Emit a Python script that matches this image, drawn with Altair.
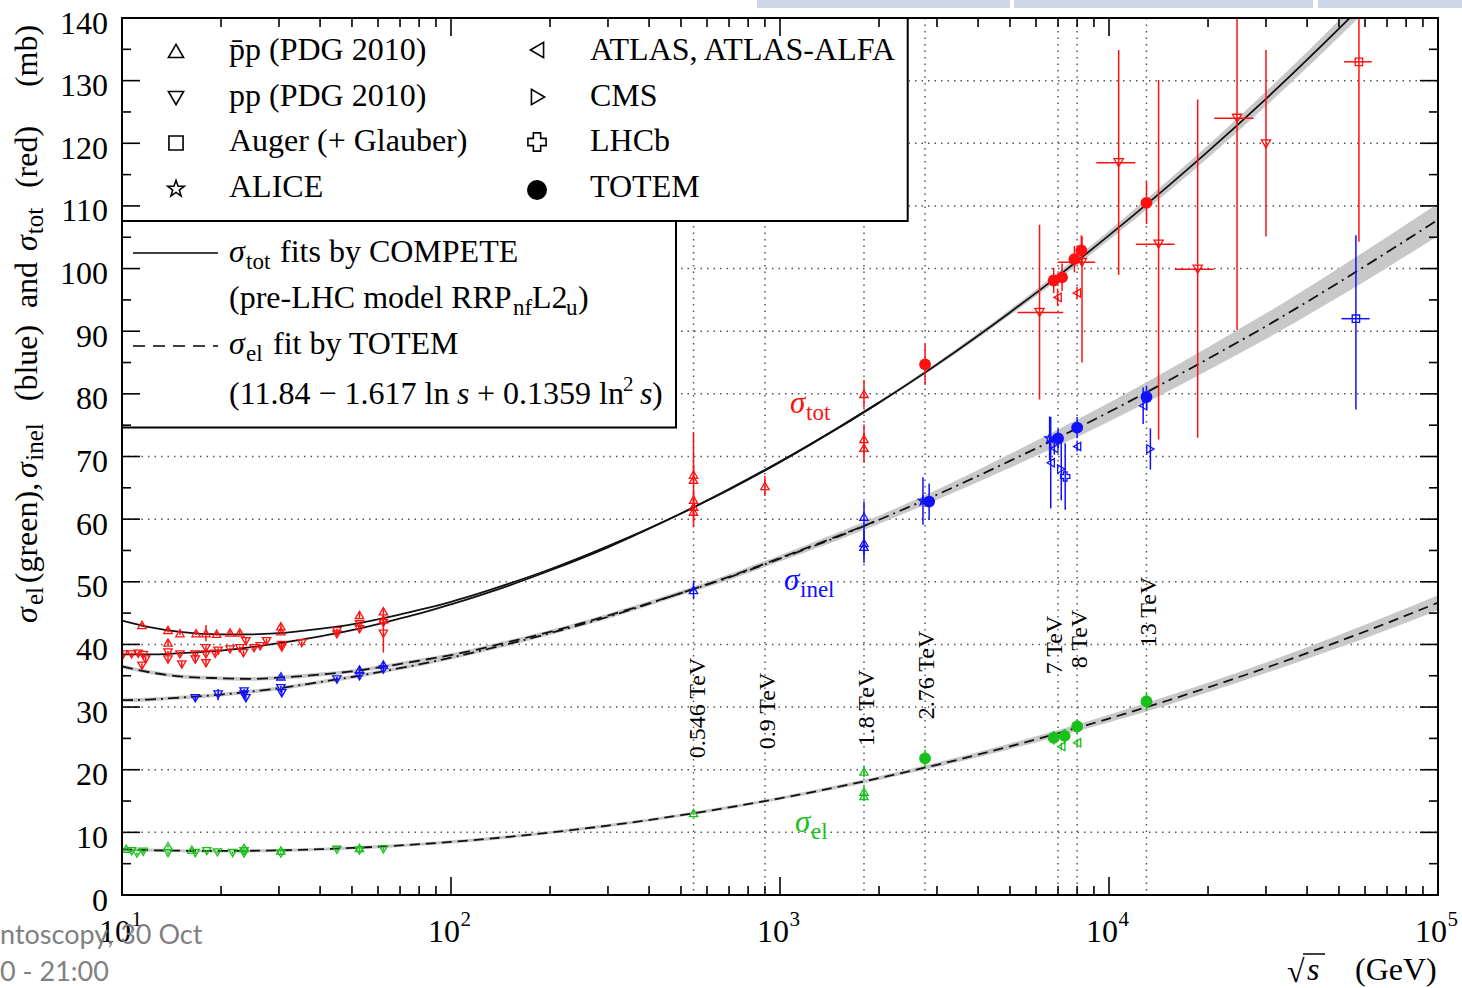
import altair as alt
import pandas as pd

# ---------------- fit curves: sqrt(s) [GeV] -> cross section [mb] ----------------
E_fit = [10, 12, 15, 20, 25, 30, 40, 50, 65, 80, 100, 150, 200, 300, 500, 700, 1000,
         1500, 2000, 3000, 5000, 7000, 10000, 15000, 20000, 30000, 50000, 70000, 100000]
tot_pp_fit = [38.4, 38.4, 38.6, 39.0, 39.6, 40.2, 41.3, 42.3, 43.7, 44.9, 46.4, 49.4, 51.8, 55.5,
              60.9, 64.7, 69.1, 74.5, 78.6, 84.7, 93.0, 98.8, 105.3, 113.0, 118.7, 127.1, 138.3,
              146.0, 154.5]
tot_pbp_fit = [43.8, 42.8, 42.0, 41.6, 41.6, 41.8, 42.5, 43.2, 44.4, 45.5, 46.8, 49.7, 52.0, 55.7,
               60.9, 64.8, 69.2, 74.6, 78.6]
el_fit = [7.28, 7.16, 7.07, 7.03, 7.06, 7.13, 7.31, 7.51, 7.81, 8.11, 8.48, 9.28, 9.97, 11.08,
          12.74, 13.98, 15.44, 17.26, 18.67, 20.79, 23.73, 25.82, 28.17, 31.01, 33.13, 36.27,
          40.49, 43.42, 46.66]
inel_pp_fit = [31.1, 31.2, 31.5, 32.0, 32.5, 33.0, 34.0, 34.8, 35.9, 36.8, 37.9, 40.1, 41.8, 44.4,
               48.2, 50.7, 53.7, 57.2, 59.9, 63.9, 69.3, 73.0, 77.1, 82.0, 85.6, 90.8, 97.8,
               102.6, 107.8]
inel_pbp_fit = [36.5, 35.6, 34.9, 34.6, 34.5, 34.7, 35.2, 35.7, 36.6, 37.4, 38.3, 40.4, 42.0, 44.6,
                48.2, 50.8, 53.8, 57.3, 59.9]
# half widths of the uncertainty bands
tot_band = [0, 0, 0, 0, 0, 0, 0, 0, 0, 0, 0, 0, 0, 0, 0.05, 0.08, 0.1, 0.15, 0.2, 0.3, 0.45,
            0.6, 0.75, 0.9, 1.0, 1.15, 1.35, 1.45, 1.6]
inel_band = [0.3, 0.3, 0.3, 0.3, 0.3, 0.3, 0.3, 0.3, 0.3, 0.3, 0.3, 0.3, 0.3, 0.3, 0.35, 0.4,
             0.45, 0.55, 0.65, 0.8, 1.1, 1.3, 1.5, 1.7, 1.85, 2.05, 2.3, 2.45, 2.6]
el_band = [0.25, 0.25, 0.25, 0.25, 0.25, 0.25, 0.25, 0.25, 0.25, 0.25, 0.25, 0.25, 0.25, 0.25,
           0.25, 0.25, 0.25, 0.28, 0.3, 0.35, 0.45, 0.5, 0.6, 0.7, 0.75, 0.85, 1.0, 1.1, 1.2]

# ---------------- measurements ----------------
# sigma_tot
tot_pbp_E = [11.5, 13.8, 13.8, 15.0, 16.8, 18.0, 19.4, 21.3, 22.8, 30.4, 30.4, 52.7, 62.3, 62.3,
             546, 546, 546, 546, 546, 900, 1800, 1800, 1800]
tot_pbp_v = [43.1, 42.3, 40.3, 41.8, 41.8, 41.8, 41.7, 41.9, 41.9, 42.9, 42.1, 44.7, 45.3, 44.0,
             67.1, 66.3, 63.1, 62.0, 61.2, 65.3, 80.0, 72.8, 71.4]
tot_pbp_err = [0.3, 0.4, 0.4, 0.3, 0.3, 1.3, 0.3, 0.3, 0.3, 0.4, 0.4, 0.5, 0.5, 0.5,
               1.5, 7.6, 1.5, 1.5, 1.5, 1.6, 2.2, 2.3, 2.4]

tot_pp_E = [10.1, 10.7, 11.2, 11.5, 11.6, 11.8, 13.8, 13.8, 15.0, 15.2, 16.7, 16.7, 18.0, 18.0,
            18.0, 19.2, 19.6, 21.3, 22.8, 23.4, 23.8, 25.2, 26.3, 27.5, 30.6, 30.6, 35.2, 45.0,
            45.0, 52.7, 52.7, 62.3, 62.3]
tot_pp_v = [38.4, 38.4, 38.5, 36.6, 38.3, 37.6, 38.7, 37.6, 38.4, 36.8, 38.4, 37.6, 39.4, 38.4,
            37.0, 38.5, 39.0, 39.2, 39.4, 38.6, 40.5, 39.4, 39.7, 40.5, 39.9, 39.5, 40.2, 42.1,
            41.6, 43.2, 42.4, 43.4, 41.7]
tot_pp_err = [0.3, 0.3, 0.3, 0.4, 0.3, 0.4, 0.3, 0.4, 0.3, 0.5, 0.3, 0.4, 0.4, 0.3,
              0.5, 0.3, 0.4, 0.3, 0.3, 0.4, 0.6, 0.3, 0.3, 0.4, 0.3, 0.3, 0.3, 0.4,
              0.4, 0.4, 0.4, 0.4, 3.0]

# cosmic-ray pp points (with energy ranges)
cr_E = [6150, 8280, 10700, 14150, 18600, 24500, 30000]
cr_Elo = [5270, 6980, 9150, 12070, 15850, 20900, 30000]
cr_Ehi = [7260, 9080, 12020, 15830, 20800, 27500, 30000]
cr_v = [93.0, 101.0, 116.9, 103.9, 99.9, 124.0, 119.9]
cr_lo = [79.1, 85.0, 99.0, 72.7, 73.0, 90.2, 105.1]
cr_hi = [107.0, 105.1, 134.9, 130.1, 127.0, 150.0, 134.9]

auger_tot_E, auger_tot_Elo, auger_tot_Ehi = [57500], [51800], [62900]
auger_tot_v, auger_tot_lo, auger_tot_hi = [133.0], [104.3], [160.0]
auger_inel_E, auger_inel_Elo, auger_inel_Ehi = [56300], [50900], [62000]
auger_inel_v, auger_inel_lo, auger_inel_hi = [92.0], [77.5], [105.3]

atlas_tot_E, atlas_tot_v, atlas_tot_err = [6980, 7990], [95.4, 96.1], [1.4, 1.0]
totem_tot_E = [2760, 6790, 7200, 7850, 8240, 13000]
totem_tot_v = [84.7, 98.1, 98.6, 101.5, 102.9, 110.5]
totem_tot_err = [3.3, 2.0, 2.2, 2.1, 2.4, 3.4]

# sigma_inel
inel_pbp_E = [30.4, 52.7, 62.3, 546, 1800, 1800, 1800]
inel_pbp_v = [34.9, 36.0, 36.8, 48.7, 60.4, 56.2, 55.6]
inel_pbp_err = [0.3, 0.4, 0.4, 1.5, 2.4, 2.0, 2.6]
inel_pp_E = [16.7, 19.6, 23.5, 23.5, 23.8, 30.4, 30.6, 45.0, 52.7, 62.3]
inel_pp_v = [31.4, 32.0, 32.5, 32.0, 31.4, 33.0, 32.2, 34.4, 34.9, 36.0]
inel_pp_err = [0.4, 0.9, 0.4, 0.4, 0.4, 0.4, 0.4, 0.4, 0.4, 0.4]
alice_inel_E, alice_inel_v, alice_inel_err = [2720, 6600], [62.9, 72.9], [3.8, 3.5]
atlas_inel_E = [6650, 6820, 8000, 12700]
atlas_inel_v = [69.0, 71.3, 71.6, 78.1]
atlas_inel_err = [7.3, 1.0, 0.8, 2.9]
cms_inel_E, cms_inel_v, cms_inel_err = [7160, 13360], [68.0, 71.2], [5.0, 3.3]
lhcb_inel_E, lhcb_inel_v, lhcb_inel_err = [7360], [66.8], [5.3]
totem_inel_E = [2840, 7000, 8000, 13000]
totem_inel_v = [62.8, 72.9, 74.6, 79.5]
totem_inel_err = [2.9, 1.5, 1.7, 1.8]

# sigma_el
el_pbp_E = [10.3, 13.8, 16.3, 23.5, 30.4, 52.7, 546, 1800, 1800, 1800]
el_pbp_v = [7.4, 7.8, 7.25, 7.5, 7.1, 7.5, 13.1, 19.7, 16.5, 15.8]
el_pbp_err = [0.2, 0.2, 0.2, 0.2, 0.2, 0.2, 0.3, 0.85, 0.8, 0.8]
el_pp_E = [10.7, 11.1, 11.6, 13.8, 16.7, 18.1, 19.5, 21.7, 23.5, 23.5, 30.4, 45.0, 52.7, 62.3]
el_pp_v = [7.0, 6.6, 6.9, 6.7, 6.7, 7.0, 6.8, 6.7, 7.0, 6.6, 6.6, 7.2, 7.1, 7.3]
el_pp_err = [0.2, 0.2, 0.2, 0.2, 0.2, 0.2, 0.2, 0.2, 0.2, 0.2, 0.2, 0.2, 0.2, 0.2]
atlas_el_E, atlas_el_v, atlas_el_err = [7160, 8000], [23.7, 24.3], [0.6, 0.4]
totem_el_E = [2760, 6790, 7330, 8000, 13000]
totem_el_v = [21.8, 25.1, 25.4, 26.9, 30.9]
totem_el_err = [1.4, 1.1, 1.1, 1.2, 1.5]

# collider energies marked with vertical lines
coll_E = [546, 900, 1800, 2760, 7000, 8000, 13000]
coll_label = ["0.546 TeV", "0.9 TeV", "1.8 TeV", "2.76 TeV", "7 TeV", "8 TeV", "13 TeV"]

# ---------------- layout & style ----------------
W, H = 1316, 877          # plot area
OX, OY = 122, 18          # plot origin on the page
SERIF = "Liberation Serif"
FS, SUB = 32, 23          # main and subscript font sizes
RED, BLUE, GREEN = "#ff1010", "#1010ff", "#19c019"
STAR = ("M0,-1L0.235,-0.324L0.951,-0.309L0.38,0.124L0.588,0.809L0,0.4L-0.588,0.809"
        "L-0.38,0.124L-0.951,-0.309L-0.235,-0.324Z")

X_SCALE = alt.Scale(type="log", domain=[10, 100000], nice=False)
Y_SCALE = alt.Scale(domain=[0, 140], nice=False, zero=False)


def X(f="E"):
    return alt.X(f"{f}:Q", scale=X_SCALE, axis=None)


def Y(f="v"):
    return alt.Y(f"{f}:Q", scale=Y_SCALE, axis=None)


def one():
    return alt.Chart(pd.DataFrame({"k": [0]}))


def txt(s, ax, ay, size=FS, color="black", italic=False, align="left",
        baseline="alphabetic", angle=0, font=SERIF):
    kw = dict(text=s, fontSize=size, color=color, align=align, baseline=baseline, font=font)
    if italic:
        kw["fontStyle"] = "italic"
    if angle:
        kw["angle"] = angle
    return one().mark_text(**kw).encode(x=alt.value(ax - OX), y=alt.value(ay - OY))


def sym(shape, ax, ay, size, filled=False, color="black"):
    return one().mark_point(shape=shape, size=size, filled=filled, color=color, opacity=1,
                            strokeWidth=1.6).encode(x=alt.value(ax - OX), y=alt.value(ay - OY))


def prect(x1, y1, x2, y2, **kw):
    return one().mark_rect(**kw).encode(x=alt.value(x1 - OX), x2=alt.value(x2 - OX),
                                        y=alt.value(y1 - OY), y2=alt.value(y2 - OY))


def meas(E, v, color, shape, size, filled=False, err=None, lo=None, hi=None, Elo=None, Ehi=None):
    if err is not None:
        lo = [a - b for a, b in zip(v, err)]
        hi = [a + b for a, b in zip(v, err)]
    df = pd.DataFrame({"E": E, "v": v, "lo": lo, "hi": hi})
    base = alt.Chart(df)
    out = [base.mark_rule(color=color, strokeWidth=1.5, clip=True).encode(
        x=X(), y=Y("lo"), y2=alt.Y2("hi:Q"))]
    if Elo is not None:
        dfx = pd.DataFrame({"Elo": Elo, "Ehi": Ehi, "v": v})
        out.append(alt.Chart(dfx).mark_rule(color=color, strokeWidth=1.5, clip=True).encode(
            x=X("Elo"), x2=alt.X2("Ehi:Q"), y=Y()))
    out.append(base.mark_point(shape=shape, size=size, filled=filled, color=color, opacity=1,
                               strokeWidth=1.3, clip=True).encode(x=X(), y=Y()))
    return out


layers = []

# ---------------- grid ----------------
grid_v = pd.DataFrame({"v": list(range(10, 140, 10))})
layers.append(alt.Chart(grid_v).mark_rule(color="#555", strokeWidth=1.5, strokeDash=[1.5, 5]).encode(
    y=Y(), x=alt.value(0), x2=alt.value(W)))
layers.append(alt.Chart(pd.DataFrame({"E": coll_E})).mark_rule(
    color="#555", strokeWidth=1.5, strokeDash=[1.5, 5]).encode(x=X(), y=alt.value(0), y2=alt.value(H)))

# ---------------- fit bands and curves ----------------
fit = pd.DataFrame({"E": E_fit, "tot": tot_pp_fit, "el": el_fit, "inel": inel_pp_fit,
                    "tlo": [a - b for a, b in zip(tot_pp_fit, tot_band)],
                    "thi": [a + b for a, b in zip(tot_pp_fit, tot_band)],
                    "ilo": [a - b for a, b in zip(inel_pp_fit, inel_band)],
                    "ihi": [a + b for a, b in zip(inel_pp_fit, inel_band)],
                    "elo": [a - b for a, b in zip(el_fit, el_band)],
                    "ehi": [a + b for a, b in zip(el_fit, el_band)]})
n = len(tot_pbp_fit)
fitb = pd.DataFrame({"E": E_fit[:n], "tot": tot_pbp_fit, "inel": inel_pbp_fit,
                     "ilo": [a - b for a, b in zip(inel_pbp_fit, inel_band[:n])],
                     "ihi": [a + b for a, b in zip(inel_pbp_fit, inel_band[:n])]})
band_kw = dict(color="#c8c8c8", opacity=1, interpolate="monotone", clip=True)
for df, lo, hi in [(fit, "tlo", "thi"), (fit, "ilo", "ihi"), (fitb, "ilo", "ihi"), (fit, "elo", "ehi")]:
    layers.append(alt.Chart(df).mark_area(**band_kw).encode(x=X(), y=Y(lo), y2=alt.Y2(f"{hi}:Q")))

line_kw = dict(color="#111", strokeWidth=1.8, interpolate="monotone", clip=True)
layers.append(alt.Chart(fit).mark_line(**line_kw).encode(x=X(), y=Y("tot")))
layers.append(alt.Chart(fitb).mark_line(**line_kw).encode(x=X(), y=Y("tot")))
layers.append(alt.Chart(fit).mark_line(strokeDash=[11, 5, 2, 5], **line_kw).encode(x=X(), y=Y("inel")))
layers.append(alt.Chart(fitb).mark_line(strokeDash=[11, 6], **line_kw).encode(x=X(), y=Y("inel")))
layers.append(alt.Chart(fit).mark_line(strokeDash=[10, 6], **line_kw).encode(x=X(), y=Y("el")))

# ---------------- measurements ----------------
TRI = 70
layers += meas(tot_pbp_E, tot_pbp_v, RED, "triangle-up", TRI, err=tot_pbp_err)
layers += meas(tot_pp_E, tot_pp_v, RED, "triangle-down", TRI, err=tot_pp_err)
layers += meas(cr_E, cr_v, RED, "triangle-down", 85, lo=cr_lo, hi=cr_hi, Elo=cr_Elo, Ehi=cr_Ehi)
layers += meas(auger_tot_E, auger_tot_v, RED, "square", 55, lo=auger_tot_lo, hi=auger_tot_hi,
               Elo=auger_tot_Elo, Ehi=auger_tot_Ehi)
layers += meas(atlas_tot_E, atlas_tot_v, RED, "triangle-left", TRI, err=atlas_tot_err)
layers += meas(totem_tot_E, totem_tot_v, RED, "circle", 140, filled=True, err=totem_tot_err)

layers += meas(inel_pbp_E, inel_pbp_v, BLUE, "triangle-up", TRI, err=inel_pbp_err)
layers += meas(inel_pp_E, inel_pp_v, BLUE, "triangle-down", TRI, err=inel_pp_err)
layers += meas(auger_inel_E, auger_inel_v, BLUE, "square", 55, lo=auger_inel_lo, hi=auger_inel_hi,
               Elo=auger_inel_Elo, Ehi=auger_inel_Ehi)
layers += meas(alice_inel_E, alice_inel_v, BLUE, STAR, 95, err=alice_inel_err)
layers += meas(atlas_inel_E, atlas_inel_v, BLUE, "triangle-left", TRI, err=atlas_inel_err)
layers += meas(cms_inel_E, cms_inel_v, BLUE, "triangle-right", TRI, err=cms_inel_err)
layers += meas(lhcb_inel_E, lhcb_inel_v, BLUE, "cross", 85, err=lhcb_inel_err)
layers += meas(totem_inel_E, totem_inel_v, BLUE, "circle", 140, filled=True, err=totem_inel_err)

layers += meas(el_pbp_E, el_pbp_v, GREEN, "triangle-up", TRI, err=el_pbp_err)
layers += meas(el_pp_E, el_pp_v, GREEN, "triangle-down", TRI, err=el_pp_err)
layers += meas(atlas_el_E, atlas_el_v, GREEN, "triangle-left", TRI, err=atlas_el_err)
layers += meas(totem_el_E, totem_el_v, GREEN, "circle", 140, filled=True, err=totem_el_err)

# ---------------- in-plot labels ----------------
layers += [txt("σ", 790, 413, 31, RED, italic=True), txt("tot", 806, 420, SUB, RED)]
layers += [txt("σ", 784, 590, 31, BLUE, italic=True), txt("inel", 800, 597, SUB, BLUE)]
layers += [txt("σ", 795, 832, 31, GREEN, italic=True), txt("el", 811, 839, SUB, GREEN)]

label_pos = [(708, 11), (711, 10), (708, 10), (675, 9), (645, 4), (639, 10), (612, 10)]
for E, lab, (cy, off) in zip(coll_E, coll_label, label_pos):
    layers.append(alt.Chart(pd.DataFrame({"E": [E]})).mark_text(
        text=lab, font=SERIF, fontSize=24, angle=270, align="center", baseline="alphabetic",
        dy=off, color="black").encode(x=X(), y=alt.value(cy - OY)))

# ---------------- legend boxes ----------------
layers.append(prect(122, 18, 907.7, 221, fill="white", stroke="black", strokeWidth=2))
layers.append(prect(122, 221, 676, 427.5, fill="white", stroke="black", strokeWidth=2))

layers += [sym("triangle-up", 176, 51, 230), sym("triangle-down", 176, 98, 230),
           sym("square", 176, 143, 200), sym(STAR, 176, 189, 300),
           sym("triangle-left", 537, 50, 230), sym("triangle-right", 538, 97, 230),
           sym("cross", 537, 142, 330), sym("circle", 537, 190, 400, filled=True)]
layers += [txt("p\u0304p (PDG 2010)", 229, 60), txt("pp (PDG 2010)", 229, 106),
           txt("Auger (+ Glauber)", 229, 151), txt("ALICE", 229, 197),
           txt("ATLAS, ATLAS-ALFA", 590, 60), txt("CMS", 590, 106),
           txt("LHCb", 590, 151), txt("TOTEM", 590, 197)]

layers.append(one().mark_rule(color="black", strokeWidth=1.5).encode(
    x=alt.value(133 - OX), x2=alt.value(218 - OX), y=alt.value(253 - OY)))
layers.append(one().mark_rule(color="black", strokeWidth=1.5, strokeDash=[12, 8]).encode(
    x=alt.value(133 - OX), x2=alt.value(218 - OX), y=alt.value(346 - OY)))
layers += [txt("σ", 229, 262, italic=True), txt("tot", 246, 269, SUB),
           txt("fits by COMPETE", 280, 262),
           txt("(pre-LHC model RRP", 229, 308), txt("nf", 513, 315, SUB), txt("L2", 532, 308),
           txt("u", 566, 315, SUB), txt(")", 578, 308),
           txt("σ", 229, 354, italic=True), txt("el", 246, 361, SUB), txt("fit by TOTEM", 273, 354),
           txt("(11.84 \u2212 1.617 ln", 229, 404), txt("s", 457, 404, italic=True),
           txt("+ 0.1359 ln", 477, 404), txt("2", 623, 391, 21), txt("s", 640, 404, italic=True),
           txt(")", 652, 404)]

# ---------------- frame and ticks ----------------
layers.append(prect(OX, OY, OX + W, OY + H, fillOpacity=0, stroke="black", strokeWidth=2))
xmaj = pd.DataFrame({"E": [10, 100, 1000, 10000, 100000]})
xmin = pd.DataFrame({"E": [m * 10 ** k for k in range(1, 5) for m in range(2, 10)]})
ymaj = pd.DataFrame({"v": list(range(0, 141, 10))})
ymin = pd.DataFrame({"v": list(range(5, 140, 10))})
tk = dict(color="black", strokeWidth=1.6)
for df, L in [(xmaj, 18), (xmin, 9)]:
    layers.append(alt.Chart(df).mark_rule(**tk).encode(x=X(), y=alt.value(H), y2=alt.value(H - L)))
    layers.append(alt.Chart(df).mark_rule(**tk).encode(x=X(), y=alt.value(0), y2=alt.value(L)))
for df, L in [(ymaj, 18), (ymin, 9)]:
    layers.append(alt.Chart(df).mark_rule(**tk).encode(y=Y(), x=alt.value(0), x2=alt.value(L)))
    layers.append(alt.Chart(df).mark_rule(**tk).encode(y=Y(), x=alt.value(W), x2=alt.value(W - L)))

# tick labels
for v in range(0, 141, 10):
    layers.append(txt(str(v), 108, OY + (140 - v) * H / 140 + 15.5, align="right"))
for k in range(1, 6):
    xt = OX + (k - 1) * W / 4
    layers += [txt("10", xt + 9, 942, align="right"), txt(str(k), xt + 9.5, 926, 21)]

# axis titles
layers += [txt("√", 1287, 982), txt("s", 1307, 980, italic=True), txt("(GeV)", 1355, 980)]
layers.append(one().mark_rule(color="black", strokeWidth=1.5).encode(
    x=alt.value(1303 - OX), x2=alt.value(1325 - OX), y=alt.value(954 - OY)))
ytitle = [("σ", 615, 37, FS, True), ("el", 596, 43, 25, False), ("(green),", 533, 37, FS, False),
          ("σ", 470, 37, FS, True), ("inel", 442, 43, 25, False), ("(blue)", 363, 37, FS, False),
          ("and", 285, 37, FS, False), ("σ", 243, 37, FS, True), ("tot", 221, 43, 25, False),
          ("(red)", 157, 37, FS, False), ("(mb)", 56, 37, FS, False)]
for s, cy, bx, size, it in ytitle:
    layers.append(txt(s, bx, cy, size, italic=it, align="center", angle=270))

# slide footer and header pieces
layers += [txt("ntoscopy, 30 Oct", 0, 944, 27, "#808080", font="Lato"),
           txt("0 - 21:00", 0, 981, 27, "#808080", font="Lato")]
for x1, x2 in [(757, 1010), (1014, 1313), (1318, 1462)]:
    layers.append(prect(x1, 0, x2, 8, fill="#cdd6e6"))

chart = alt.layer(*layers).properties(
    width=W, height=H,
    padding={"left": OX, "top": OY, "right": 1462 - OX - W, "bottom": 988 - OY - H},
    autosize=alt.AutoSizeParams(type="none"),
    background="white",
).configure_view(strokeWidth=0)

chart.save("out.html", embed_options={"renderer": "svg", "actions": False})
